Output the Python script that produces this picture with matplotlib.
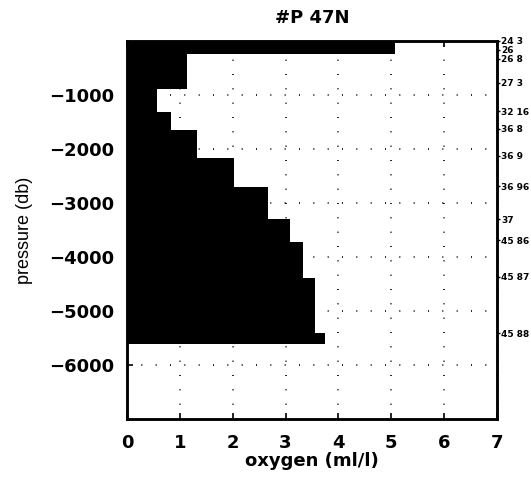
import numpy as np
import matplotlib.pyplot as plt

plt.rcParams['font.family'] = ['DejaVu Sans']

# layer boundaries (db) and mean oxygen in each layer (ml/l)
layer_top = [0, -240, -890, -1315, -1650, -2170, -2700, -3300, -3720, -4390, -5410]
layer_bot = [-240, -890, -1315, -1650, -2170, -2700, -3300, -3720, -4390, -5410, -5610]
oxygen = [5.07, 1.13, 0.57, 0.83, 1.32, 2.02, 2.66, 3.09, 3.33, 3.55, 3.74]

# density surface labels on the right side
sigma_labels = ['24 3', '26', '26 8', '27 3', '32 16', '36 8', '36 9',
                '36 96', '37', '45 86', '45 87', '45 88']
sigma_press = [0, -170, -330, -780, -1300, -1630, -2130, -2690, -3300,
               -3690, -4370, -5410]

xticks = [0, 1, 2, 3, 4, 5, 6, 7]
yticks = [-6000, -5000, -4000, -3000, -2000, -1000]

fig = plt.figure(figsize=(5.31, 4.8), dpi=100)
ax = fig.add_axes([0.239, 0.127, 0.697, 0.788])

heights = np.array(layer_bot) - np.array(layer_top)
ax.barh(layer_top, oxygen, height=heights, left=0, align='edge',
        color='black', edgecolor='black', linewidth=0, zorder=3)

ax.set_xlim(0, 7)
ax.set_ylim(-7000, 0)
ax.set_xticks(xticks)
ax.set_yticks(yticks)
ax.set_yticklabels(['\u2212%d' % abs(v) for v in yticks])
ax.grid(True, color='black', linestyle=(0, (0.6, 8)), linewidth=1.2, zorder=1)
ax.tick_params(direction='in', length=4, width=1.2, labelsize=13,
               top=True, right=False)
ax.tick_params(axis='x', pad=11)
ax.tick_params(axis='y', pad=9)
for lab in ax.get_xticklabels() + ax.get_yticklabels():
    lab.set_fontweight('bold')
for s in ax.spines.values():
    s.set_linewidth(1.8)

ax.set_xlabel('oxygen (ml/l)', fontsize=13, fontweight='bold', labelpad=0)
ax.set_ylabel('pressure (db)', fontsize=13, family='Liberation Sans', labelpad=12)
ax.set_title('#P 47N', fontsize=13, fontweight='bold', pad=13)

ax2 = ax.twinx()
ax2.set_ylim(-7000, 0)
ax2.set_yticks(sigma_press)
ax2.set_yticklabels(sigma_labels)
ax2.tick_params(direction='out', length=2, width=1, labelsize=6.5, pad=1)
for lab in ax2.get_yticklabels():
    lab.set_fontweight('bold')
for s in ax2.spines.values():
    s.set_linewidth(1.8)

fig.savefig('out.png', dpi=100)
